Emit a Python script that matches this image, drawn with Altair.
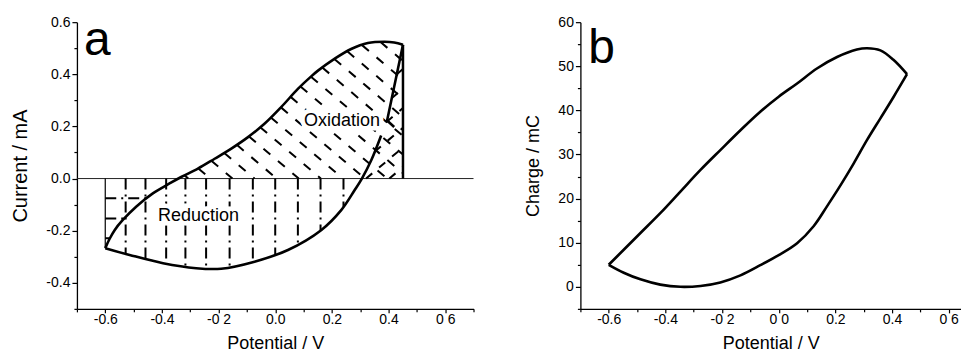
import json
import numpy as np
import pandas as pd
import altair as alt

FONT = "Liberation Sans"

# ---------------- Panel a : cyclic voltammogram ----------------
# upper (anodic) branch, from the left vertex to the right vertex
UA_X = [-0.600, -0.585, -0.567, -0.538, -0.491, -0.432, -0.373, -0.332, -0.273, -0.214,
        -0.155, -0.096, -0.038, 0.021, 0.080, 0.127, 0.151, 0.209, 0.268, 0.327,
        0.386, 0.420, 0.451]
UA_Y = [-0.267, -0.232, -0.198, -0.159, -0.108, -0.057, -0.019, 0.006, 0.038, 0.076,
        0.115, 0.159, 0.210, 0.274, 0.344, 0.392, 0.414, 0.459, 0.497, 0.520,
        0.525, 0.522, 0.513]
# lower (cathodic) branch, from the left vertex rightwards
LA_X = [-0.600, -0.514, -0.396, -0.279, -0.191, -0.073, 0.045, 0.162, 0.233, 0.280,
        0.306, 0.339, 0.374]
LA_Y = [-0.267, -0.293, -0.325, -0.344, -0.346, -0.319, -0.274, -0.198, -0.121, -0.045,
        0.000, 0.070, 0.165]
# short straight segment near the right vertex
RS_X = [0.451, 0.395, 0.420]
RS_Y = [0.513, 0.223, 0.198]

# hatch definitions
VERT_X = [-0.528, -0.458, -0.385, -0.317, -0.244, -0.161, -0.079, 0.0, 0.08, 0.16, 0.241]
HORZ_Y = [-0.076, -0.153, -0.229]
BACK_C = [-0.307, -0.229, -0.151, -0.073, 0.005, 0.083, 0.161, 0.239, 0.317, 0.395,
          0.473, 0.551, 0.629, 0.707, 0.785, 0.863, 0.941]
FWD_D = [0.403, 0.321, 0.239, 0.157, 0.076, -0.006, -0.088]
SLOPE = 0.92

LABELS_A = [("Oxidation", 0.236, 0.22), ("Reduction", -0.271, -0.144)]

XA_TICKS = [-0.6, -0.4, -0.2, 0.0, 0.2, 0.4, 0.6]
XA_LABELS = ["-0.6", "-0.4", "-0 2", "0.0", "0.2", "0.4", "0 6"]
YA_TICKS = [-0.4, -0.2, 0.0, 0.2, 0.4, 0.6]
YA_LABELS = ["-0.4", "-0.2", "0.0", "0.2", "0.4", "0.6"]

# ---------------- Panel b : charge ----------------
UB_X = [-0.600, -0.547, -0.488, -0.418, -0.347, -0.276, -0.206, -0.135, -0.065, 0.000,
        0.065, 0.135, 0.206, 0.276, 0.312, 0.359, 0.406, 0.453]
UB_Y = [5.0, 8.4, 12.2, 16.7, 21.6, 26.5, 31.0, 35.5, 39.7, 43.1,
        46.1, 49.5, 52.1, 53.8, 54.1, 53.6, 51.4, 48.2]
LB_X = [0.453, 0.406, 0.359, 0.312, 0.265, 0.218, 0.171, 0.124, 0.065, 0.000,
        -0.065, -0.135, -0.206, -0.276, -0.347, -0.418, -0.488, -0.547, -0.600]
LB_Y = [48.2, 43.1, 38.2, 33.3, 28.0, 23.0, 18.3, 13.8, 9.9, 7.2,
        4.9, 2.6, 1.0, 0.2, 0.0, 0.5, 1.7, 3.2, 5.0]

XB_TICKS = [-0.6, -0.4, -0.2, 0.0, 0.2, 0.4, 0.6]
XB_LABELS = ["-0.6", "-0.4", "-0 2", "0 0", "0.2", "0.4", "0 6"]
YB_TICKS = [0, 10, 20, 30, 40, 50, 60]
YB_LABELS = ["0", "10", "20", "30", "40", "50", "60"]


def label_expr(ticks, labels, mult):
    keys = [int(round(t * mult)) for t in ticks]
    k = json.dumps(keys)
    l = json.dumps(labels)
    return (f"indexof({k}, round(datum.value*{mult})) < 0 ? '' : "
            f"{l}[indexof({k}, round(datum.value*{mult}))]")


def tick_cond(mult, step, major, minor):
    return {"condition": {"test": f"round(datum.value*{mult}) % {step} != 0", "value": minor},
            "value": major}


# ---------- build hatch segments for panel a ----------
xs = np.linspace(-0.335, UA_X[-1], 4000)
ys = np.interp(xs, UA_X, UA_Y)
back = []
for c in BACK_C:
    f = ys + SLOPE * (xs - c)
    if f[0] >= 0 or f[-1] < 0:
        continue
    i = int(np.argmax(f >= 0))
    xt = xs[i]
    yt = -SLOPE * (xt - c)
    if c <= UA_X[-1]:
        xe, ye = c, 0.0
    else:
        xe, ye = UA_X[-1], -SLOPE * (UA_X[-1] - c)
    if xe > xt:
        back.append({"x": xt, "y": yt, "x2": xe, "y2": ye})
back = pd.DataFrame(back)

rb_y = [LA_Y[-3], LA_Y[-2], LA_Y[-1], RS_Y[1], RS_Y[0]]
rb_x = [LA_X[-3], LA_X[-2], LA_X[-1], RS_X[1], RS_X[0]]
yy = np.linspace(0.0, RS_Y[0], 4000)
xl = np.interp(yy, rb_y, rb_x)
fwd = []
for d in FWD_D:
    xline = d + yy / SLOPE
    ok = (xline >= xl) & (xline <= RS_X[0])
    if not ok.any():
        continue
    idx = np.where(ok)[0]
    i0, i1 = idx[0], idx[-1]
    fwd.append({"x": xline[i0], "y": yy[i0], "x2": xline[i1], "y2": yy[i1]})
fwd = pd.DataFrame(fwd)

vert = pd.DataFrame({"x": VERT_X, "y": [0.0] * len(VERT_X),
                     "y2": [float(np.interp(v, LA_X, LA_Y)) for v in VERT_X]})
left_part = 8
horz = pd.DataFrame({"x": [UA_X[0]] * len(HORZ_Y), "y": HORZ_Y,
                     "x2": [float(np.interp(h, UA_Y[:left_part], UA_X[:left_part])) for h in HORZ_Y]})

bounds = pd.DataFrame({"x": [UA_X[-1], UA_X[0]], "y": [0.0, 0.0],
                       "y2": [UA_Y[-1], UA_Y[0]], "w": ["thick", "thin"]})

rows = []
for seg, (X_, Y_) in enumerate([(UA_X, UA_Y), (LA_X, LA_Y)]):
    for o, (a, b) in enumerate(zip(X_, Y_)):
        rows.append({"x": a, "y": b, "seg": seg, "o": o})
curve_a = pd.DataFrame(rows)
seg_a = pd.DataFrame({"x": RS_X, "y": RS_Y, "o": list(range(len(RS_X)))})

rows = []
for seg, (X_, Y_) in enumerate([(UB_X, UB_Y), (LB_X, LB_Y)]):
    for o, (a, b) in enumerate(zip(X_, Y_)):
        rows.append({"x": a, "y": b, "seg": seg, "o": o})
curve_b = pd.DataFrame(rows)

labels_a = pd.DataFrame([{"t": t, "x": x, "y": y} for t, x, y in LABELS_A])

# ---------- scales & axes ----------
W_A, W_B, H = 397, 381, 287
xa_scale = alt.Scale(domain=[-0.7, 0.7], nice=False, zero=False)
ya_scale = alt.Scale(domain=[-0.5, 0.6], nice=False, zero=False)
xb_scale = alt.Scale(domain=[-0.7, -0.7 + W_B / (W_A / 1.4)], nice=False, zero=False)
yb_scale = alt.Scale(domain=[-5, 60], nice=False, zero=False)

common = dict(grid=False, labelFlush=False, labelOverlap=False, labelBound=False)
ax_xa = alt.Axis(title="Potential / V", values=[round(v * 0.1, 1) for v in range(-7, 8)],
                 labelExpr=label_expr(XA_TICKS, XA_LABELS, 10),
                 tickSize=tick_cond(10, 2, 4, 3), **common)
ax_ya = alt.Axis(title="Current / mA", values=[round(v * 0.1, 1) for v in range(-5, 7)],
                 labelExpr=label_expr(YA_TICKS, YA_LABELS, 10),
                 tickSize=tick_cond(10, 2, 5, 3), titleFontSize=20, **common)
ax_xb = alt.Axis(title="Potential / V", values=[round(v * 0.1, 1) for v in range(-7, 7)],
                 labelExpr=label_expr(XB_TICKS, XB_LABELS, 10),
                 tickSize=tick_cond(10, 2, 4, 3), **common)
ax_yb = alt.Axis(title="Charge / mC", values=list(range(-5, 61, 5)),
                 labelExpr=label_expr(YB_TICKS, YB_LABELS, 1),
                 tickSize=tick_cond(1, 10, 5, 3), **common)


def X(f, s, a):
    return alt.X(f, scale=s, axis=a)


def Y(f, s, a):
    return alt.Y(f, scale=s, axis=a)


# ---------- panel a ----------
zero = alt.Chart(pd.DataFrame({"y": [0.0]})).mark_rule(color="#222", strokeWidth=1).encode(
    y=Y("y:Q", ya_scale, ax_ya))
l_back = alt.Chart(back).mark_rule(color="black", strokeWidth=2, strokeDash=[9, 10]).encode(
    x=X("x:Q", xa_scale, ax_xa), y=Y("y:Q", ya_scale, ax_ya), x2="x2:Q", y2="y2:Q")
l_fwd = alt.Chart(fwd).mark_rule(color="black", strokeWidth=2, strokeDash=[8, 9]).encode(
    x=X("x:Q", xa_scale, ax_xa), y=Y("y:Q", ya_scale, ax_ya), x2="x2:Q", y2="y2:Q")
l_vert = alt.Chart(vert).mark_rule(color="black", strokeWidth=2, strokeDash=[11, 5, 2, 5]).encode(
    x=X("x:Q", xa_scale, ax_xa), y=Y("y:Q", ya_scale, ax_ya), y2="y2:Q")
l_horz = alt.Chart(horz).mark_rule(color="black", strokeWidth=2, strokeDash=[11, 5, 2, 5]).encode(
    x=X("x:Q", xa_scale, ax_xa), y=Y("y:Q", ya_scale, ax_ya), x2="x2:Q")
l_bound_thick = alt.Chart(bounds[bounds.w == "thick"]).mark_rule(color="black", strokeWidth=2.5).encode(
    x=X("x:Q", xa_scale, ax_xa), y=Y("y:Q", ya_scale, ax_ya), y2="y2:Q")
l_bound_thin = alt.Chart(bounds[bounds.w == "thin"]).mark_rule(color="black", strokeWidth=1.2).encode(
    x=X("x:Q", xa_scale, ax_xa), y=Y("y:Q", ya_scale, ax_ya), y2="y2:Q")
l_curve_a = alt.Chart(curve_a).mark_line(color="black", strokeWidth=2.6, interpolate="catmull-rom").encode(
    x=X("x:Q", xa_scale, ax_xa), y=Y("y:Q", ya_scale, ax_ya), detail="seg:N", order="o:Q")
l_seg_a = alt.Chart(seg_a).mark_line(color="black", strokeWidth=2.6, strokeJoin="miter").encode(
    x=X("x:Q", xa_scale, ax_xa), y=Y("y:Q", ya_scale, ax_ya), order="o:Q")
l_halo = alt.Chart(labels_a).mark_text(font=FONT, fontSize=18, color="black", stroke="white",
                                       strokeWidth=9).encode(
    x=X("x:Q", xa_scale, ax_xa), y=Y("y:Q", ya_scale, ax_ya), text="t:N")
l_text = alt.Chart(labels_a).mark_text(font=FONT, fontSize=18, color="black").encode(
    x=X("x:Q", xa_scale, ax_xa), y=Y("y:Q", ya_scale, ax_ya), text="t:N")
l_letter_a = alt.Chart(pd.DataFrame({"t": ["a"], "x": [-0.675], "y": [0.473]})).mark_text(
    font=FONT, fontSize=48, align="left", baseline="alphabetic", color="black").encode(
    x=X("x:Q", xa_scale, ax_xa), y=Y("y:Q", ya_scale, ax_ya), text="t:N")

panel_a = alt.layer(zero, l_back, l_fwd, l_vert, l_horz, l_bound_thin, l_bound_thick,
                    l_curve_a, l_seg_a, l_halo, l_text, l_letter_a).properties(width=W_A, height=H)

# ---------- panel b ----------
l_curve_b = alt.Chart(curve_b).mark_line(color="black", strokeWidth=2.6, interpolate="catmull-rom").encode(
    x=X("x:Q", xb_scale, ax_xb), y=Y("y:Q", yb_scale, ax_yb), detail="seg:N", order="o:Q")
l_letter_b = alt.Chart(pd.DataFrame({"t": ["b"], "x": [-0.672], "y": [50.7]})).mark_text(
    font=FONT, fontSize=48, align="left", baseline="alphabetic", color="black").encode(
    x=X("x:Q", xb_scale, ax_xb), y=Y("y:Q", yb_scale, ax_yb), text="t:N")
panel_b = alt.layer(l_curve_b, l_letter_b).properties(width=W_B, height=H)

chart = alt.hconcat(panel_a, panel_b, spacing=50).properties(
    padding={"left": 2, "top": 7, "right": 0, "bottom": 0}
).configure_view(strokeWidth=0).configure_axis(
    domainColor="black", domainWidth=1.3, tickColor="black", tickWidth=1.2,
    labelFont=FONT, labelFontSize=14, labelColor="black", labelPadding=2,
    titleFont=FONT, titleFontSize=18, titleFontWeight="normal", titleColor="black",
).configure_axisY(titlePadding=15).configure_axisX(titlePadding=8, labelPadding=0)

chart.save("out.html", embed_options={"renderer": "svg", "actions": False})
